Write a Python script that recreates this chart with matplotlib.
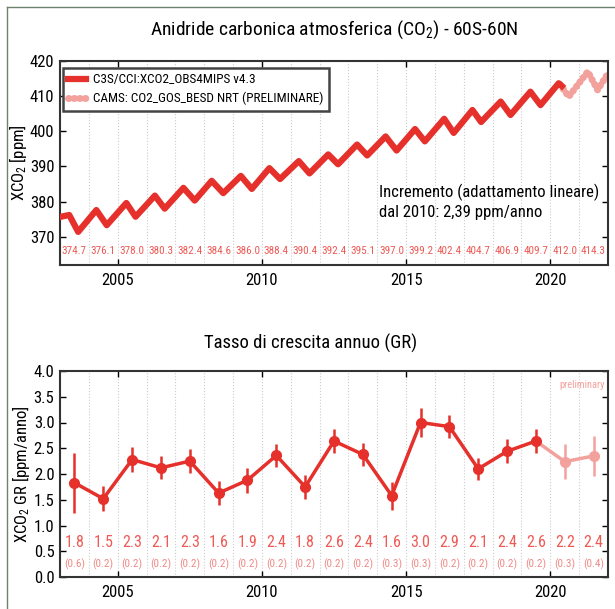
import matplotlib
matplotlib.use('Agg')
import matplotlib.pyplot as plt
from matplotlib import font_manager
from matplotlib.ticker import MultipleLocator, FormatStrFormatter
from matplotlib.lines import Line2D

# ---------------- data ----------------
# C3S/CCI monthly XCO2 (peaks / troughs)
c3s_time = [2003.03, 2003.32, 2003.63, 2004.26, 2004.62, 2005.30, 2005.62, 2006.29, 2006.63,
            2007.28, 2007.67, 2008.26, 2008.66, 2009.27, 2009.65, 2010.26, 2010.63, 2011.28,
            2011.65, 2012.30, 2012.64, 2013.30, 2013.65, 2014.29, 2014.67, 2015.31, 2015.65,
            2016.32, 2016.65, 2017.30, 2017.60, 2018.28, 2018.62, 2019.31, 2019.66, 2020.29,
            2020.40]
c3s_xco2 = [375.7, 376.2, 371.4, 377.6, 373.3, 379.6, 375.7, 381.7, 378.0,
            383.9, 380.3, 385.9, 382.4, 387.3, 383.6, 389.5, 386.4, 391.5,
            388.0, 393.4, 390.6, 396.2, 393.1, 398.5, 394.5, 400.6, 397.1,
            403.5, 399.5, 406.0, 402.6, 408.4, 404.6, 411.2, 407.4, 413.6,
            412.8]
# CAMS NRT preliminary
cams_time = [2020.33, 2020.64, 2021.30, 2021.64, 2022.0]
cams_xco2 = [413.3, 409.8, 416.9, 411.7, 416.4]

years = list(range(2003, 2022))
annual_mean = [374.7, 376.1, 378.0, 380.3, 382.4, 384.6, 386.0, 388.4, 390.4, 392.4,
               395.1, 397.0, 399.2, 402.4, 404.7, 406.9, 409.7, 412.0, 414.3]

# annual growth rate
gr_value = [1.83, 1.52, 2.28, 2.12, 2.25, 1.63, 1.88, 2.36, 1.75, 2.64,
            2.38, 1.58, 3.00, 2.92, 2.10, 2.44, 2.64, 2.24, 2.35]
gr_err = [0.58, 0.24, 0.24, 0.22, 0.23, 0.24, 0.24, 0.23, 0.23, 0.24,
          0.22, 0.27, 0.28, 0.23, 0.22, 0.23, 0.23, 0.34, 0.38]
gr_label = ['1.8', '1.5', '2.3', '2.1', '2.3', '1.6', '1.9', '2.4', '1.8', '2.6',
            '2.4', '1.6', '3.0', '2.9', '2.1', '2.4', '2.6', '2.2', '2.4']
gr_err_label = ['(0.6)', '(0.2)', '(0.2)', '(0.2)', '(0.2)', '(0.2)', '(0.2)', '(0.2)', '(0.2)', '(0.2)',
                '(0.2)', '(0.3)', '(0.3)', '(0.2)', '(0.2)', '(0.2)', '(0.2)', '(0.3)', '(0.4)']
n_final = 17  # first 17 years are final, the rest preliminary

# ---------------- font: look for a narrow / condensed face ----------------
FONT, STRETCH, K = 'DejaVu Sans', 'normal', 0.74
cands = []
for f in font_manager.fontManager.ttflist:
    fn = f.fname.replace('-', '').replace('_', '').lower()
    if f.style != 'normal' or f.weight not in (400, 'normal', 'regular'):
        continue
    if 'narrow' in fn or 'condensed' in fn or f.stretch in ('condensed', 'semi-condensed'):
        if 'mono' in fn or 'serif' in fn and 'sans' not in fn:
            continue
        cands.append(f)
pref = ['liberationsansnarrow', 'robotocondensed', 'opensanscondensed', 'dejavusanscondensed']
best = None
for p in pref:
    for f in cands:
        if p in f.fname.replace('-', '').replace('_', '').lower():
            best = f
            break
    if best:
        break
if best is None and cands:
    best = cands[0]
if best is not None:
    FONT, STRETCH, K = best.name, best.stretch, 0.9 if 'dejavu' in best.fname.lower() else 1.0

plt.rcParams['font.family'] = [FONT, 'DejaVu Sans']
plt.rcParams['font.stretch'] = STRETCH
plt.rcParams['mathtext.fontset'] = 'custom'
plt.rcParams['mathtext.rm'] = FONT
plt.rcParams['mathtext.it'] = FONT

def fs(x):
    return x * K

RED = '#e5302b'
PINK = '#f3a19c'
LBL = '#ee5a55'
W, H = 615, 609

fig = plt.figure(figsize=(W / 100, H / 100), dpi=100)

def px_axes(l, t, r, b):
    return fig.add_axes([l / W, 1 - b / H, (r - l) / W, (b - t) / H])

def style(ax):
    ax.set_xlim(2003, 2022)
    ax.xaxis.set_major_locator(MultipleLocator(5))
    ax.xaxis.set_minor_locator(MultipleLocator(1))
    ax.tick_params(which='major', direction='in', top=True, right=True, length=4,
                   width=1, labelsize=fs(12), pad=4)
    ax.tick_params(axis='x', which='major', pad=6)
    ax.tick_params(which='minor', length=0)
    ax.grid(True, axis='x', which='both', linestyle=':', color='#cccccc', linewidth=0.8)
    for s in ax.spines.values():
        s.set_linewidth(1.5)
        s.set_color('#333333')

# frame lines
fig.add_artist(Line2D([7 / W, 7 / W], [0, 1 - 7 / H], transform=fig.transFigure,
                      color='#6e8270', lw=1))
fig.add_artist(Line2D([7 / W, 1], [1 - 7 / H, 1 - 7 / H], transform=fig.transFigure,
                      color='#6e8270', lw=1))

# ---------------- top panel ----------------
ax1 = px_axes(60, 60.7, 608, 265)
style(ax1)
ax1.set_ylim(362, 420)
ax1.yaxis.set_major_locator(MultipleLocator(10))
ax1.plot(c3s_time, c3s_xco2, color=RED, lw=4.5, solid_joinstyle='round',
         label='C3S/CCI:XCO2_OBS4MIPS v4.3', zorder=3)
ax1.plot(cams_time, cams_xco2, color=PINK, lw=5, linestyle=(0, (0.1, 0.7)),
         dash_capstyle='round', label='CAMS: CO2_GOS_BESD NRT (PRELIMINARE)', zorder=2)
for y, m in zip(years, annual_mean):
    ax1.text(y + 0.5, 366.0, f'{m:.1f}', color=LBL, fontsize=fs(8), ha='center', va='center')
ax1.text(2014.07, 380.0, 'Incremento (adattamento lineare)\ndal 2010: 2,39 ppm/anno',
         fontsize=fs(12), ha='left', va='center', linespacing=1.3)
ax1.set_ylabel('XCO$_2$ [ppm]', fontsize=fs(12), labelpad=1)
leg = ax1.legend(loc='upper left', bbox_to_anchor=(0.005, 0.965), borderaxespad=0,
                 fontsize=fs(9.5), fancybox=False, framealpha=1, handlelength=1.4,
                 handletextpad=0.5, borderpad=0.4, labelspacing=0.45)
leg.get_frame().set_edgecolor('#444444')
leg.get_frame().set_linewidth(1.8)
fig.text(334 / W, 1 - 30 / H, 'Anidride carbonica atmosferica (CO$_2$) - 60S-60N',
         fontsize=fs(14), ha='center', va='center')

# ---------------- bottom panel ----------------
ax2 = px_axes(60, 371, 608, 577)
style(ax2)
ax2.set_ylim(0, 4)
ax2.yaxis.set_major_locator(MultipleLocator(0.5))
ax2.yaxis.set_major_formatter(FormatStrFormatter('%.1f'))
xs = [y + 0.5 for y in years]
ax2.plot(xs[:n_final], gr_value[:n_final], color=RED, lw=2.5, zorder=3)
ax2.plot(xs[n_final - 1:], gr_value[n_final - 1:], color=PINK, lw=2.5, zorder=2)
ax2.errorbar(xs[:n_final], gr_value[:n_final], yerr=gr_err[:n_final], fmt='o', color=RED,
             ms=7, elinewidth=1.8, capsize=0, zorder=4)
ax2.errorbar(xs[n_final:], gr_value[n_final:], yerr=gr_err[n_final:], fmt='o', color=PINK,
             ms=7, elinewidth=1.8, capsize=0, zorder=4)
for x, l, e in zip(xs, gr_label, gr_err_label):
    ax2.text(x, 0.67, l, color=LBL, fontsize=fs(11.5), ha='center', va='center')
    ax2.text(x, 0.25, e, color='#f08a85', fontsize=fs(8), ha='center', va='center')
ax2.text(2021.9, 3.73, 'preliminary', color=PINK, fontsize=fs(7.5), ha='right', va='center')
ax2.set_ylabel('XCO$_2$ GR [ppm/anno]', fontsize=fs(12), labelpad=1)
fig.text(311 / W, 1 - 343 / H, 'Tasso di crescita annuo (GR)', fontsize=fs(13.5),
         ha='center', va='center')

fig.savefig('out.png', dpi=100)
